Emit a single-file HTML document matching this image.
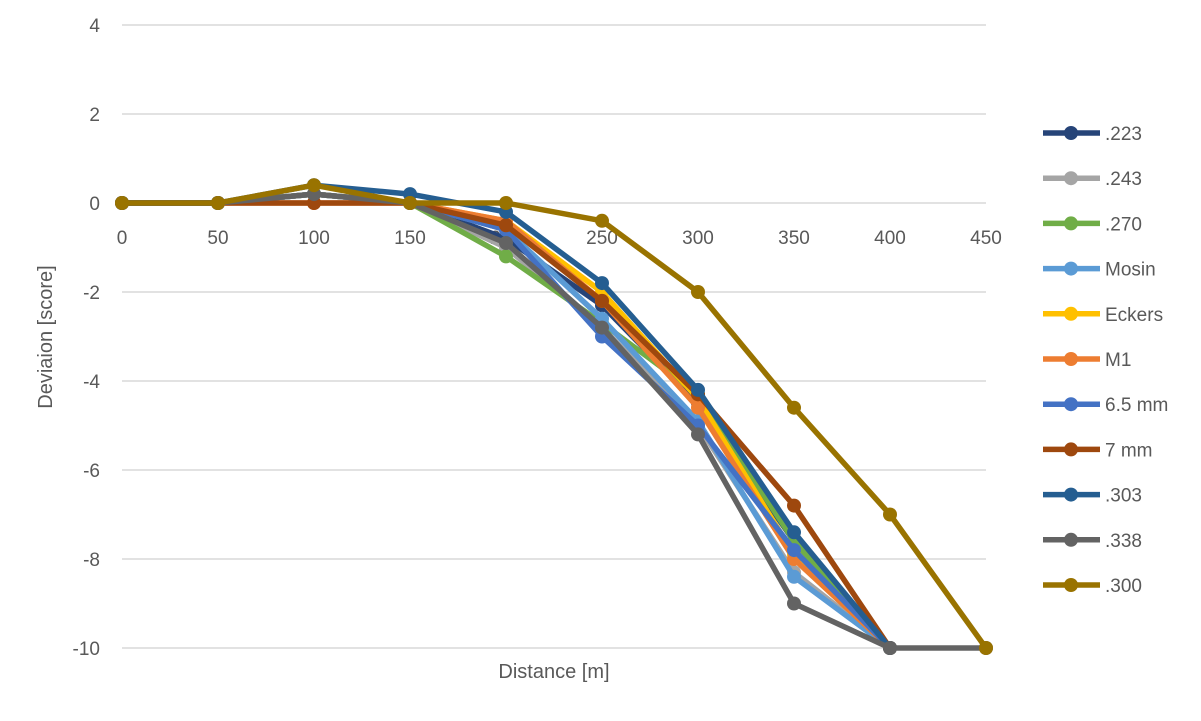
<!DOCTYPE html>
<html><head><meta charset="utf-8"><style>
body{margin:0;background:#fff}
svg text{font-family:"Liberation Sans",sans-serif;fill:#595959}
</style></head><body>
<svg id="s" width="1201" height="716" xmlns="http://www.w3.org/2000/svg">
<rect width="1201" height="716" fill="#fff"/>
<g id="grid" stroke="#d9d9d9" stroke-width="1.5"></g>
<g id="lbl" font-size="19"></g>
<text x="554" y="678" font-size="20" text-anchor="middle">Distance [m]</text>
<text transform="translate(52,337) rotate(-90)" font-size="20" text-anchor="middle">Deviaion [score]</text>
<g id="ser"></g>
<g id="leg" font-size="19"></g>
</svg>
<script>
var NS="http://www.w3.org/2000/svg";
function el(t,a,p,txt){var e=document.createElementNS(NS,t);for(var k in a)e.setAttribute(k,a[k]);if(txt!==undefined)e.textContent=txt;document.getElementById(p).appendChild(e);return e;}
function X(d){return 122+1.92*d}
function Y(v){return 203-44.5*v}
for(var v=4;v>=-10;v-=2){el("line",{x1:122,x2:986,y1:Y(v),y2:Y(v)},"grid");el("text",{x:100,y:Y(v)+7,"text-anchor":"end"},"lbl",v);}
for(var d=0;d<=450;d+=50){el("text",{x:X(d),y:244,"text-anchor":"middle"},"lbl",d);}
var S=[
[".223","#264478",[0,0,0.2,0,-0.8,-2.3,-4.5,-7.6,-10]],
[".243","#A5A5A5",[0,0,0.2,0,-1.0,-2.8,-5.0,-8.3,-10]],
[".270","#70AD47",[0,0,0.2,0,-1.2,-2.7,-4.3,-7.6,-10]],
["Mosin","#5B9BD5",[0,0,0.2,0,-0.6,-2.6,-4.9,-8.4,-10]],
["Eckers","#FFC000",[0,0,0.2,0,-0.4,-2.0,-4.4,-7.9,-10]],
["M1","#ED7D31",[0,0,0,0,-0.4,-2.2,-4.6,-8.0,-10]],
["6.5 mm","#4472C4",[0,0,0.2,0,-0.6,-3.0,-5.0,-7.8,-10]],
["7 mm","#9E480E",[0,0,0,0,-0.5,-2.2,-4.3,-6.8,-10]],
[".303","#255E91",[0,0,0.4,0.2,-0.2,-1.8,-4.2,-7.4,-10]],
[".338","#636363",[0,0,0.2,0,-0.9,-2.8,-5.2,-9,-10,-10]],
[".300","#997300",[0,0,0.4,0,0,-0.4,-2,-4.6,-7,-10]]
];
S.forEach(function(s,i){
  var pts=s[2].map(function(v,j){return X(j*50)+","+Y(v)}).join(" ");
  el("polyline",{points:pts,fill:"none",stroke:s[1],"stroke-width":5.5,"stroke-linejoin":"round"},"ser");
  s[2].forEach(function(v,j){el("circle",{cx:X(j*50),cy:Y(v),r:7,fill:s[1]},"ser");});
  var ly=133+45.2*i;
  el("line",{x1:1043,x2:1100,y1:ly,y2:ly,stroke:s[1],"stroke-width":5.5},"leg");
  el("circle",{cx:1071,cy:ly,r:7,fill:s[1]},"leg");
  el("text",{x:1105,y:ly+7},"leg",s[0]);
});
</script>
</body></html>
